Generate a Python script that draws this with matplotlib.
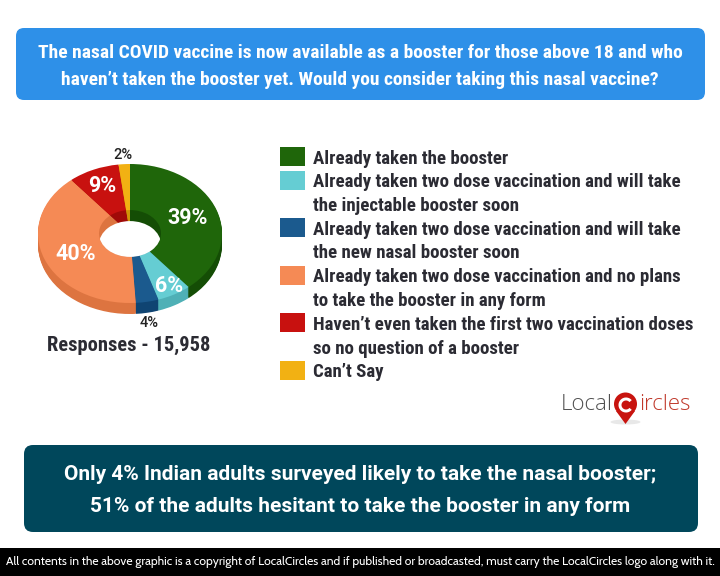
import matplotlib
matplotlib.use('Agg')
import matplotlib.pyplot as plt
from matplotlib import font_manager as fm
from matplotlib.patches import Rectangle, FancyBboxPatch, Ellipse, Circle, Polygon, Wedge

# survey values
values = [39, 6, 4, 40, 9, 2]
top_colors = ['#1f660a', '#65cdd3', '#1b5a8e', '#f58a55', '#c8110f', '#f2b113']
side_colors = ['#144d05', '#4fb0b6', '#0f4472', '#dd7440', '#a00a08', '#d09508']
legend_rows = [
    ['Already taken the booster'],
    ['Already taken two dose vaccination and will take', 'the injectable booster soon'],
    ['Already taken two dose vaccination and will take', 'the new nasal booster soon'],
    ['Already taken two dose vaccination and no plans', 'to take the booster in any form'],
    ['Haven\u2019t even taken the first two vaccination doses', 'so no question of a booster'],
    ['Can\u2019t Say'],
]
label_pos = [(188, 218), (169, 286), (149, 323), (76, 254), (102, 186), (123, 155)]
label_white = [True, True, False, True, True, False]

names = {f.name for f in fm.fontManager.ttflist}
narrow = 'Roboto'
for n in ['Roboto Condensed', 'Fira Sans Condensed', 'Encode Sans Condensed']:
    if n in names:
        narrow = n
        break
small = 'Cabin' if 'Cabin' in names else 'Lato'

W, H = 720, 576
fig = plt.figure(figsize=(W / 100, H / 100), dpi=100, facecolor='white')

# background axes in pixel coordinates
bg = fig.add_axes([0, 0, 1, 1])
bg.set_xlim(0, W)
bg.set_ylim(H, 0)
bg.axis('off')

bg.add_patch(FancyBboxPatch((20, 32), 681, 64, boxstyle='round,pad=4,rounding_size=8', fc='#2e90e8', ec='none'))
bg.text(360, 53, 'The nasal COVID vaccine is now available as a booster for those above 18 and who',
        color='white', fontsize=14, fontweight='bold', family=narrow, ha='center', va='center')
bg.text(360, 80, 'haven\u2019t taken the booster yet. Would you consider taking this nasal vaccine?',
        color='white', fontsize=14, fontweight='bold', family=narrow, ha='center', va='center')

bg.add_patch(FancyBboxPatch((30, 451), 662, 75, boxstyle='round,pad=6,rounding_size=9', fc='#00475b', ec='none'))
bg.text(360, 474, 'Only 4% Indian adults surveyed likely to take the nasal booster;',
        color='white', fontsize=15, fontweight='bold', family='Roboto', ha='center', va='center')
bg.text(360, 506, '51% of the adults hesitant to take the booster in any form',
        color='white', fontsize=15, fontweight='bold', family='Roboto', ha='center', va='center')

bg.add_patch(Rectangle((0, 548), W, 28, fc='black', ec='none'))
bg.text(360, 562, 'All contents in the above graphic is a copyright of LocalCircles and if published or broadcasted, must carry the LocalCircles logo along with it.',
        color='white', fontsize=8.7, family=small, ha='center', va='center')

# legend
y = 157.5
for row, col in zip(legend_rows, top_colors):
    bg.add_patch(Rectangle((280, y - 10.5), 25, 19, fc=col, ec='none'))
    for line in row:
        bg.text(313, y + 1, line, color='#2b2b33', fontsize=13.55, fontweight='bold', family=narrow, va='center')
        y += 23.75

bg.text(129, 345, 'Responses - 15,958', color='#2b2b33', fontsize=14.8, fontweight='bold', family=narrow, ha='center', va='center')

# logo
bg.text(561, 405, 'Local', color='#505050', fontsize=16, family='Open Sans', fontweight='light', va='center')
bg.text(639, 405, 'ircles', color='#c0392b', fontsize=16, family='Open Sans', fontweight='light', va='center')
bg.add_patch(Ellipse((625.5, 422), 30, 5, fc='#e8e8e8', ec='none'))
bg.add_patch(Polygon([[616, 411], [635, 411], [625.5, 424]], fc='#c8140f', ec='none'))
bg.add_patch(Circle((625.5, 404), 11.5, fc='#c8140f', ec='none'))
bg.add_patch(Wedge((626, 405), 7.5, 40, 320, width=3, fc='white', ec='none'))

# donut, squashed to look tilted
cx, cy, rx, ry = 130, 233.5, 92, 69.5
depth = 11 / ry
ax = fig.add_axes([(cx - 1.1 * rx) / W, 1 - (cy + 1.25 * ry) / H, 2.2 * rx / W, 2.35 * ry / H])
ax.patch.set_alpha(0)

hole = 0.337
steps = 11
for i in range(steps, 0, -1):
    ax.pie(values, colors=side_colors, startangle=90, counterclock=False, radius=1,
           center=(0, -depth * i / steps))
ax.pie(values, colors=side_colors, startangle=90, counterclock=False, radius=hole, center=(0, 0))
ax.pie(values, colors=top_colors, startangle=90, counterclock=False, radius=1, center=(0, 0),
       wedgeprops={'width': 1 - hole})
ax.set_aspect('auto')
ax.set_xlim(-1.1, 1.1)
ax.set_ylim(-1.25, 1.1)

clip = Ellipse((0, 0), 2 * hole, 2 * hole, fc='none', ec='none', transform=ax.transData)
ax.add_patch(clip)
white = Ellipse((0, -depth), 2 * hole, 2 * hole, fc='white', ec='none', zorder=5)
ax.add_patch(white)
white.set_clip_path(clip)

# labels above the donut
fg = fig.add_axes([0, 0, 1, 1])
fg.set_xlim(0, W)
fg.set_ylim(H, 0)
fg.axis('off')
for v, (x, yy), is_white in zip(values, label_pos, label_white):
    if is_white:
        fg.text(x, yy, f'{v}%', color='white', fontsize=15.5, fontweight='bold', family='Roboto', ha='center', va='center')
    else:
        fg.text(x, yy, f'{v}%', color='#222222', fontsize=10.5, family='Roboto', fontweight='medium', ha='center', va='center')

fig.savefig('out.png', dpi=100)
